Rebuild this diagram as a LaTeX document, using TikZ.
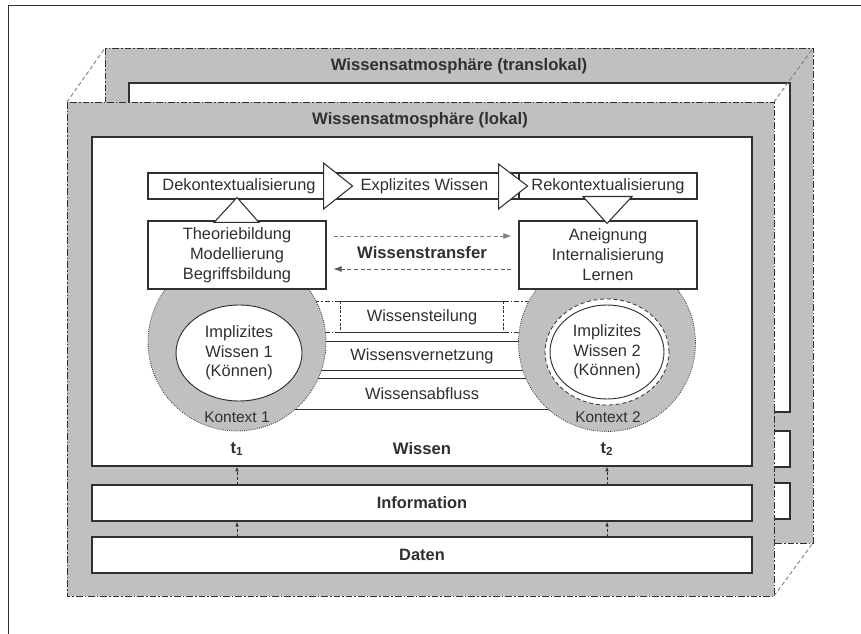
\documentclass[tikz,border=0pt]{standalone}
\usepackage{fontspec}
\setmainfont{Liberation Sans}
\usetikzlibrary{calc,arrows.meta,shapes.geometric}
\definecolor{panelgray}{HTML}{C0C0C0}
\definecolor{ink}{HTML}{303030}
\begin{document}
\begin{tikzpicture}[x=0.75pt,y=-0.75pt,
  sz/.style 2 args={minimum width=#1*0.75pt, minimum height=#2*0.75pt},
  panel/.style={fill=panelgray, draw=ink, line width=0.7pt, dash pattern=on 5pt off 1.5pt on 1.2pt off 1.5pt},
  layer/.style={fill=white, draw=ink, line width=0.9pt, inner sep=0pt, text=ink, font=\bfseries\fontsize{12.3}{15}\selectfont},
  diag/.style={draw=gray, line width=0.7pt, dash pattern=on 3pt off 2pt},
  box/.style={draw=ink, fill=white, line width=0.8pt, inner sep=0pt, text=ink, align=center, font=\fontsize{12.3}{15}\selectfont},
  lbl/.style={inner sep=0pt, text=ink, align=center, font=\fontsize{12.3}{14.6}\selectfont},
  ttl/.style={inner sep=0pt, text=ink, font=\bfseries\fontsize{12.5}{15}\selectfont},
  tri/.style={draw=ink, fill=white, line width=0.8pt, line join=miter},
  bar/.style={draw=ink, line width=0.8pt},
  dashdot/.style={draw=ink, line width=0.7pt, dash pattern=on 4pt off 1.5pt on 1pt off 1.5pt},
  dashv/.style={draw=ink, line width=0.6pt, dash pattern=on 2pt off 1.2pt},
  ring/.style={circle, fill=panelgray, draw=ink, line width=0.6pt, densely dotted, inner sep=0pt},
  inner/.style={ellipse, fill=white, draw=ink, line width=0.7pt, inner sep=0pt},
  xferlight/.style={draw=gray, line width=0.6pt, dash pattern=on 3pt off 2pt, -{Latex[length=6pt,width=4.5pt]}},
  xferdark/.style={draw=ink!80, line width=0.6pt, dash pattern=on 3pt off 2pt, -{Latex[length=6pt,width=4.5pt]}},
  lay/.style={draw=ink, line width=0.5pt, dash pattern=on 2pt off 1.5pt, -{Latex[length=3.5pt,width=2.5pt]}}
]
\useasboundingbox (0,0) rectangle (861,634);
% outer frame
\draw[ink, line width=0.6pt] (8,634) -- (8,5) -- (861,5);

% back panel (translokal)
\draw[panel] (105,48) rectangle (813,543);
\draw[layer] (129,83) rectangle (790,412);
\draw[layer] (129,431) rectangle (790,467);
\draw[layer] (129,483) rectangle (790,519);
\node[ttl] (ttrans) at (459,66) {Wissensatmosphäre (translokal)};

% front panel (lokal)
\draw[panel] (67,102) rectangle (774,596);
\node[ttl] (tlok) at (420,120) {Wissensatmosphäre (lokal)};
\node[layer, sz={660}{329}] (wis) at (422,301.5) {};
\node[layer, sz={660}{36}] (inf) at (422,503) {Information};
\node[layer, sz={660}{36}] (dat) at (422,555) {Daten};

% depth edges
\draw[diag] (67,102) -- (105,48);
\draw[diag] (774,102) -- (813,48);
\draw[diag] (774,596) -- (813,543);

% circle centres
\coordinate (kl) at (237,342);
\coordinate (kr) at (607,343);

% bars between the contexts
\node[lbl, sz={162}{30}] (teil) at (422,317) {Wissensteilung};
\draw[bar] (teil.north west) -- (teil.north east);
\draw[bar] (teil.south west) -- (teil.south east);
\draw[dashv] (teil.north west) -- (teil.south west);
\draw[dashv] (teil.north east) -- (teil.south east);
\draw[dashdot] (teil.north west) -- (teil.north west -| kl);
\draw[dashdot] (teil.south west) -- (teil.south west -| kl);
\draw[dashdot] (teil.north east) -- (teil.north east -| kr);
\draw[dashdot] (teil.south east) -- (teil.south east -| kr);

\node[lbl, sz={370}{28}] (vern) at (422,356) {Wissensvernetzung};
\draw[bar] (vern.north west -| kl) -- (vern.north east -| kr);
\draw[bar] (vern.south west -| kl) -- (vern.south east -| kr);

\node[lbl, sz={370}{30}] (abf) at (422,394) {Wissensabfluss};
\draw[bar] (abf.north west -| kl) -- (abf.north east -| kr);
\draw[bar] (abf.south west -| kl) -- (abf.south east -| kr);

% context rings
\node[ring, minimum size=178*0.75pt] (rl) at (kl) {};
\node[ring, minimum size=177*0.75pt] (rr) at (kr) {};
\node[inner, sz={126}{96}] (il) at (239,353) {};
\node[lbl] (tl) at (il) {Implizites\\Wissen 1\\(Können)};
\node[inner, densely dashed, line width=0.6pt, sz={124}{106}] (irx) at (607,352) {};
\node[inner, sz={114}{94}] (ir) at (607,352) {};
\node[lbl] (tr) at (ir) {Implizites\\Wissen 2\\(Können)};
\node[lbl, font=\fontsize{11.6}{14}\selectfont] (k1) at (237,417) {Kontext 1};
\node[lbl, font=\fontsize{11.6}{14}\selectfont] (k2) at (608,417) {Kontext 2};

% top row
\node[box, sz={182}{26}] (dek) at (239,186) {Dekontextualisierung};
\node[box, sz={189}{26}] (expl) at (424.5,186) {Explizites Wissen};
\node[box, sz={178}{26}] (rek) at (608,186) {Rekontextualisierung};
\draw[tri] ($(dek.east)+(-7,-23)$) -- ($(dek.east)+(-7,23)$) -- ($(dek.east)+(22,0)$) -- cycle;
\draw[tri] ($(expl.east)+(-21,-22)$) -- ($(expl.east)+(-21,23)$) -- ($(expl.east)+(8,0)$) -- cycle;

% second row
\node[box, sz={178}{68}] (theo) at (237,255) {Theoriebildung\\Modellierung\\Begriffsbildung};
\node[box, sz={178}{68}] (anei) at (608,255) {Aneignung\\Internalisierung\\Lernen};
\draw[tri] ($(theo.north)+(-23,2)$) -- ($(theo.north)+(22,2)$) -- ($(dek.south)+(-2,-2)$) -- cycle;
\draw[tri] ($(rek.south)+(-25,-3)$) -- ($(rek.south)+(24,-3)$) -- ($(anei.north)+(-1,3)$) -- cycle;

% knowledge transfer
\draw[xferlight] ($(theo.east)+(7,-19)$) -- ($(anei.west)+(-7,-19)$);
\draw[xferdark] ($(anei.west)+(-7,14)$) -- ($(theo.east)+(7,14)$);
\node[ttl] (wtr) at (422,253) {Wissenstransfer};

% time labels
\node[ttl] (t1) at (237,449) {t\textsubscript{1}};
\node[ttl] (wt) at (422,449) {Wissen};
\node[ttl] (t2) at (607,449) {t\textsubscript{2}};

% layer arrows
\draw[lay] (inf.north -| kl) -- (wis.south -| kl);
\draw[lay] (dat.north -| kl) -- (inf.south -| kl);
\draw[lay] (inf.north -| kr) -- (wis.south -| kr);
\draw[lay] (dat.north -| kr) -- (inf.south -| kr);
\end{tikzpicture}
\end{document}
